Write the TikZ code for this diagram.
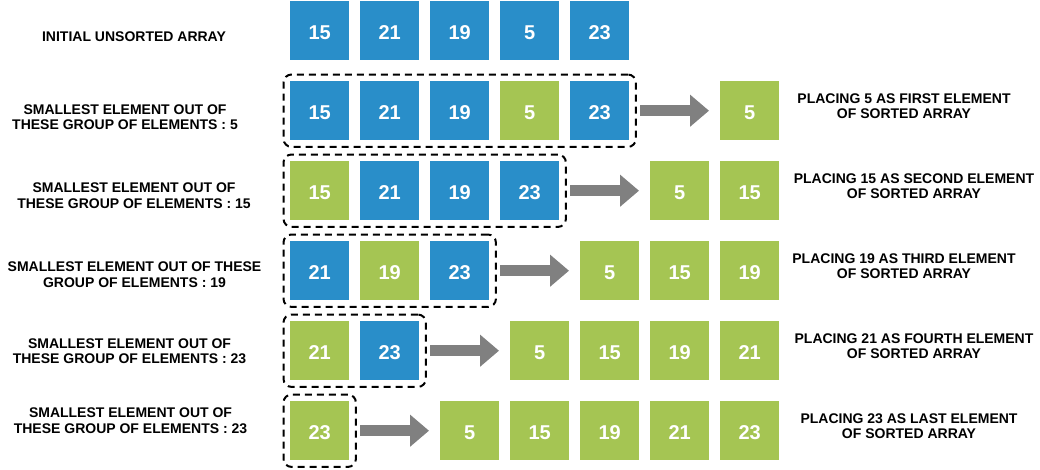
\documentclass[tikz,border=0pt]{standalone}
\usepackage{fontspec}
\setmainfont{Liberation Sans}
\usetikzlibrary{fit,calc,arrows.meta}
\definecolor{boxblue}{RGB}{41,142,201}
\definecolor{boxgreen}{RGB}{165,197,83}
\definecolor{arrowgray}{RGB}{128,128,128}
\begin{document}
\begin{tikzpicture}[x=1pt,y=-1pt,
  cell/.style={minimum width=59pt,minimum height=59pt,inner sep=0pt,text=white,
    font=\fontsize{20}{24}\selectfont\bfseries,anchor=north west,
    text height=17.3pt,text depth=0pt},
  bcell/.style={cell,fill=boxblue},
  gcell/.style={cell,fill=boxgreen},
  lbl/.style={align=center,font=\fontsize{14}{15.5}\selectfont\bfseries,inner sep=0pt},
  grp/.style={draw=black,line width=2pt,rounded corners=8pt,dash pattern=on 7pt off 5pt,inner sep=6.5pt},
  fatarrow/.style={draw=arrowgray,line width=11pt,-{Triangle[length=19pt,width=31pt]}}
]
\useasboundingbox (0,0) rectangle (1040,469);
\fill[white] (0,0) rectangle (1040,469);

% row 1
\node[bcell] (a0) at (290,1) {15};
\node[bcell] (a1) at (360,1) {21};
\node[bcell] (a2) at (430,1) {19};
\node[bcell] (a3) at (500,1) {5};
\node[bcell] (a4) at (570,1) {23};
\node[lbl] (la) at (134,37) {INITIAL UNSORTED ARRAY};

% row 2
\node[bcell] (b0) at (290,81) {15};
\node[bcell] (b1) at (360,81) {21};
\node[bcell] (b2) at (430,81) {19};
\node[gcell] (b3) at (500,81) {5};
\node[bcell] (b4) at (570,81) {23};
\node[gcell] (bs0) at (720,81) {5};
\node[grp,fit=(b0)(b4)] (gb) {};
\draw[fatarrow] ($(b4.east)+(11,0)$) -- ($(bs0.west)+(-11,0)$);
\node[lbl] (lb) at (125,117) {SMALLEST ELEMENT OUT OF\\THESE GROUP OF ELEMENTS : 5};
\node[lbl] (rb) at (904,106) {PLACING 5 AS FIRST ELEMENT\\OF SORTED ARRAY};

% row 3
\node[gcell] (c0) at (290,161) {15};
\node[bcell] (c1) at (360,161) {21};
\node[bcell] (c2) at (430,161) {19};
\node[bcell] (c3) at (500,161) {23};
\node[gcell] (cs0) at (650,161) {5};
\node[gcell] (cs1) at (720,161) {15};
\node[grp,fit=(c0)(c3)] (gc) {};
\draw[fatarrow] ($(c3.east)+(11,0)$) -- ($(cs0.west)+(-11,0)$);
\node[lbl] (lc) at (134,195.5) {SMALLEST ELEMENT OUT OF\\THESE GROUP OF ELEMENTS : 15};
\node[lbl] (rc) at (914,186) {PLACING 15 AS SECOND ELEMENT\\OF SORTED ARRAY};

% row 4
\node[bcell] (d0) at (290,241) {21};
\node[gcell] (d1) at (360,241) {19};
\node[bcell] (d2) at (430,241) {23};
\node[gcell] (ds0) at (580,241) {5};
\node[gcell] (ds1) at (650,241) {15};
\node[gcell] (ds2) at (720,241) {19};
\node[grp,fit=(d0)(d2)] (gd) {};
\draw[fatarrow] ($(d2.east)+(11,0)$) -- ($(ds0.west)+(-11,0)$);
\node[lbl] (ld) at (134.5,274.5) {SMALLEST ELEMENT OUT OF THESE\\GROUP OF ELEMENTS : 19};
\node[lbl] (rd) at (904,266) {PLACING 19 AS THIRD ELEMENT\\OF SORTED ARRAY};

% row 5
\node[gcell] (e0) at (290,321) {21};
\node[bcell] (e1) at (360,321) {23};
\node[gcell] (es0) at (510,321) {5};
\node[gcell] (es1) at (580,321) {15};
\node[gcell] (es2) at (650,321) {19};
\node[gcell] (es3) at (720,321) {21};
\node[grp,fit=(e0)(e1)] (ge) {};
\draw[fatarrow] ($(e1.east)+(11,0)$) -- ($(es0.west)+(-11,0)$);
\node[lbl] (le) at (129.5,351) {SMALLEST ELEMENT OUT OF\\THESE GROUP OF ELEMENTS : 23};
\node[lbl] (re) at (914,346) {PLACING 21 AS FOURTH ELEMENT\\OF SORTED ARRAY};

% row 6
\node[gcell] (f0) at (290,401) {23};
\node[gcell] (fs0) at (440,401) {5};
\node[gcell] (fs1) at (510,401) {15};
\node[gcell] (fs2) at (580,401) {19};
\node[gcell] (fs3) at (650,401) {21};
\node[gcell] (fs4) at (720,401) {23};
\node[grp,fit=(f0)] (gf) {};
\draw[fatarrow] ($(f0.east)+(11,0)$) -- ($(fs0.west)+(-11,0)$);
\node[lbl] (lf) at (130.5,420.5) {SMALLEST ELEMENT OUT OF\\THESE GROUP OF ELEMENTS : 23};
\node[lbl] (rf) at (909,426) {PLACING 23 AS LAST ELEMENT\\OF SORTED ARRAY};
\end{tikzpicture}
\end{document}
